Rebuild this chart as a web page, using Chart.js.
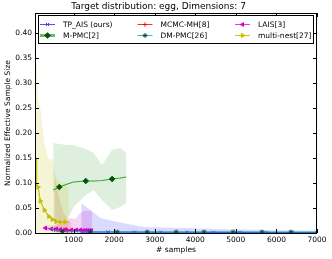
<!DOCTYPE html>
<html><head><meta charset="utf-8">
<script src="https://cdn.jsdelivr.net/npm/chart.js@4"></script>
<style>html,body{margin:0;padding:0;background:#fff;} canvas{display:block;}</style>
</head><body>
<canvas id="c" width="332" height="259"></canvas>
<script>
// ---- text ----
const titleText = 'Target distribution: egg, Dimensions: 7';
const xAxisLabel = '# samples';
const yAxisLabel = 'Normalized Effective Sample Size';

// ---- ticks ----
const xTicks = [1000, 2000, 3000, 4000, 5000, 6000, 7000];
const xTickLabels = ['1000', '2000', '3000', '4000', '5000', '6000', '7000'];
const yTicks = [0, 0.05, 0.10, 0.15, 0.20, 0.25, 0.30, 0.35, 0.40];
const yTickLabels = ['0.00', '0.05', '0.10', '0.15', '0.20', '0.25', '0.30', '0.35', '0.40'];

// ---- TP_AIS (ours) ----
const tpX = [1200, 1850, 2500, 3150, 3800, 4450, 5100, 5750, 6400, 7000];
const tpY = [0.002, 0.002, 0.0018, 0.0015, 0.0015, 0.0012, 0.0012, 0.001, 0.001, 0.001];
const tpBandX = [1190, 1460, 1660, 2080, 2470, 2740, 4120, 5770, 7000];
const tpBandHi = [0.060, 0.043, 0.030, 0.022, 0.016, 0.012, 0.009, 0.006, 0.0045];
const tpBandLo = [0, 0, 0, 0, 0, 0, 0, 0, 0];

// ---- MCMC-MH ----
const mhX = [530, 600, 680, 760, 850, 950];
const mhY = [0.007, 0.007, 0.006, 0.006, 0.005, 0.005];
const mhBandHi = [0.12, 0.085, 0.06, 0.04, 0.028, 0.02];
const mhBandLo = [0, 0, 0, 0, 0, 0];

// ---- LAIS ----
const laisX = [306, 454, 577, 675, 798, 946, 1069, 1167, 1241, 1290, 1339, 1388, 1437];
const laisY = [0.010, 0.008, 0.008, 0.007, 0.007, 0.006, 0.006, 0.006, 0.005, 0.005, 0.005, 0.005, 0.005];
const laisBandX = [306, 552, 798, 921, 1044, 1167, 1266, 1364, 1462];
const laisBandHi = [0.014, 0.016, 0.020, 0.030, 0.028, 0.040, 0.045, 0.044, 0.045];
const laisBandLo = [0.004, 0.003, 0.002, 0.002, 0.002, 0.002, 0.002, 0.002, 0.002];

// ---- M-PMC ----
const mpmcX = [500, 650, 850, 1000, 1300, 1500, 1700, 1950, 2150, 2300];
const mpmcY = [0.086, 0.092, 0.098, 0.102, 0.104, 0.104, 0.105, 0.108, 0.110, 0.112];
const mpmcMarks = [0, 1, 0, 0, 1, 0, 0, 1, 0, 0];
const mpmcBandHi = [0.180, 0.178, 0.176, 0.176, 0.168, 0.160, 0.136, 0.166, 0.170, 0.160];
const mpmcBandLo = [0.026, 0.026, 0.026, 0.052, 0.076, 0.086, 0.066, 0.046, 0.052, 0.060];

// ---- DM-PMC ----
const dmX = [430, 520, 600, 724, 1413, 2077, 2815, 3528, 4217, 4931, 5644, 6358, 7000];
const dmY = [0.009, 0.006, 0.004, 0.003, 0.002, 0.002, 0.002, 0.002, 0.002, 0.002, 0.002, 0.002, 0.002];
const dmMarks = [0, 0, 0, 1, 1, 1, 1, 1, 1, 1, 1, 1, 0];
const dmBandX = [430, 550, 700, 1000, 2000, 7000];
const dmBandHi = [0.012, 0.009, 0.005, 0.004, 0.003, 0.002];
const dmBandLo = [0.004, 0.002, 0, 0, 0, 0];

// ---- multi-nest ----
const mnX = [77, 90, 126, 183, 281, 392, 478, 569, 675, 791, 879];
const mnY = [0.150, 0.094, 0.092, 0.064, 0.046, 0.033, 0.027, 0.023, 0.022, 0.022, 0.022];
const mnMarks = [0, 0, 1, 1, 1, 1, 1, 1, 1, 1, 0];
const mnBandHi = [0.36, 0.35, 0.27, 0.25, 0.18, 0.146, 0.15, 0.11, 0.10, 0.10, 0.09];
const mnBandLo = [0, 0, 0, 0, 0, 0, 0, 0, 0, 0, 0];

const pts = (xs, ys) => xs.map((x, i) => ({x: x, y: ys[i]}));
const FONT = 'DejaVu Sans';

function band(xs, hi, lo, color) {
  return [
    {data: pts(xs, hi), fill: '+1', backgroundColor: color, borderWidth: 0, pointRadius: 0, order: 10},
    {data: pts(xs, lo), fill: false, borderWidth: 0, pointRadius: 0, order: 10}
  ];
}
function line(label, xs, ys, color, mColor, style, rot, r, marks, legendPos, legendLine) {
  return {
    label: label, data: pts(xs, ys), borderColor: color, borderWidth: 1.2, fill: false,
    pointStyle: style, pointRotation: rot, backgroundColor: mColor, pointBackgroundColor: mColor,
    pointBorderColor: mColor, pointBorderWidth: 1,
    pointRadius: marks ? marks.map(m => m ? r : 0) : r,
    order: 1, legendPos: legendPos, legendLine: legendLine, markR: r
  };
}

const datasets = [].concat(
  band(mnX, mnBandHi, mnBandLo, 'rgba(191,191,0,0.16)'),
  band(mpmcX, mpmcBandHi, mpmcBandLo, 'rgba(0,128,0,0.13)'),
  band(mhX, mhBandHi, mhBandLo, 'rgba(255,0,0,0.13)'),
  band(laisBandX, laisBandHi, laisBandLo, 'rgba(191,0,191,0.16)'),
  band(tpBandX, tpBandHi, tpBandLo, 'rgba(0,0,255,0.14)'),
  band(dmBandX, dmBandHi, dmBandLo, 'rgba(0,191,191,0.15)'),
  [
    Object.assign(line('TP_AIS (ours)', tpX, tpY, 'rgba(40,40,255,0.85)', '#3030ff', 'crossRot', 0, 2.2, null, [0, 0], {c: '#5050ff', w: 1}), {order: 6}),
    Object.assign(line('MCMC-MH[8]', mhX, mhY, 'rgba(255,0,0,0.85)', '#ff0000', 'cross', 0, 2.2, null, [1, 0], {c: '#ff3030', w: 1}), {order: 5}),
    Object.assign(line('LAIS[3]', laisX, laisY, 'rgba(220,0,220,0.9)', '#d000d0', 'triangle', -90, 2.2, null, [2, 0], {c: '#e040e0', w: 1}), {order: 4}),
    Object.assign(line('M-PMC[2]', mpmcX, mpmcY, 'rgba(30,150,30,0.85)', '#005500', 'rectRot', 0, 2.8, mpmcMarks, [0, 1], {c: '#70b870', w: 3}), {order: 3}),
    Object.assign(line('DM-PMC[26]', dmX, dmY, 'rgba(0,170,170,0.9)', '#004848', 'star', 0, 2.4, dmMarks, [1, 1], {c: '#40b8b8', w: 1}), {order: 2}),
    Object.assign(line('multi-nest[27]', mnX, mnY, 'rgba(191,191,0,0.95)', '#c0c000', 'triangle', 90, 2.4, mnMarks, [2, 1], {c: '#c8c800', w: 1}), {order: 1})
  ]
);

const framePlugin = {
  id: 'frame',
  afterDraw(chart) {
    const ctx = chart.ctx, a = chart.chartArea;
    const xs = chart.scales.x, ys = chart.scales.y;
    ctx.save();
    ctx.strokeStyle = '#000'; ctx.lineWidth = 1;
    ctx.strokeRect(a.left + 0.5, a.top + 0.5, a.right - a.left - 1, a.bottom - a.top);
    ctx.beginPath();
    xTicks.forEach(v => {
      const p = Math.round(xs.getPixelForValue(v)) + 0.5;
      ctx.moveTo(p, a.bottom); ctx.lineTo(p, a.bottom - 4);
      ctx.moveTo(p, a.top); ctx.lineTo(p, a.top + 4);
    });
    yTicks.forEach(v => {
      const p = Math.round(ys.getPixelForValue(v)) + 0.5;
      ctx.moveTo(a.left, p); ctx.lineTo(a.left + 4, p);
      ctx.moveTo(a.right, p); ctx.lineTo(a.right - 4, p);
    });
    ctx.stroke();

    // legend
    const lx = 38.5, ly = 15.5, lw = 275, lh = 28;
    ctx.fillStyle = '#fff'; ctx.fillRect(lx, ly, lw, lh);
    ctx.strokeRect(lx, ly, lw, lh);
    const colX = [40, 137.5, 235];
    const rowY = [24.5, 35.5];
    ctx.font = '7.5px "' + FONT + '"';
    ctx.textBaseline = 'middle';
    chart.data.datasets.forEach(ds => {
      if (!ds.legendPos) return;
      const x0 = colX[ds.legendPos[0]], y0 = rowY[ds.legendPos[1]];
      ctx.strokeStyle = ds.legendLine.c; ctx.lineWidth = ds.legendLine.w;
      ctx.beginPath(); ctx.moveTo(x0, y0); ctx.lineTo(x0 + 15, y0); ctx.stroke();
      ctx.fillStyle = ds.pointBackgroundColor; ctx.strokeStyle = ds.pointBorderColor; ctx.lineWidth = 1;
      Chart.helpers.drawPoint(ctx, {pointStyle: ds.pointStyle, rotation: ds.pointRotation, radius: ds.markR, borderWidth: 1}, x0 + 7.5, y0);
      ctx.fillStyle = '#000';
      ctx.fillText(ds.label, x0 + 23, y0 + 0.5);
    });
    ctx.restore();
  }
};

new Chart(document.getElementById('c'), {
  type: 'line',
  data: {datasets: datasets},
  plugins: [framePlugin],
  options: {
    responsive: false, animation: false, devicePixelRatio: 1,
    layout: {padding: {left: 0, right: 15, top: 0, bottom: 0}},
    elements: {line: {tension: 0}},
    plugins: {
      legend: {display: false}, tooltip: {enabled: false},
      title: {display: true, text: titleText, color: '#000', font: {family: FONT, size: 9, weight: 'normal'}, padding: {top: 1, bottom: 1.2}}
    },
    scales: {
      x: {
        type: 'linear', min: 50, max: 7000,
        afterBuildTicks: s => { s.ticks = xTicks.map(v => ({value: v})); },
        afterFit: s => { s.height = 26; },
        grid: {display: false, drawTicks: false},
        border: {display: false},
        ticks: {color: '#000', font: {family: FONT, size: 7.5}, padding: 3, maxRotation: 0,
          callback: (v) => xTickLabels[xTicks.indexOf(v)]},
        title: {display: true, text: xAxisLabel, color: '#000', font: {family: FONT, size: 7.5}, padding: {top: 0, bottom: 4.5}}
      },
      y: {
        type: 'linear', min: 0, max: 0.44,
        afterBuildTicks: s => { s.ticks = yTicks.map(v => ({value: v})); },
        afterFit: s => { s.width = 35; },
        grid: {display: false, drawTicks: false},
        border: {display: false},
        ticks: {color: '#000', font: {family: FONT, size: 7.5}, padding: 3,
          callback: (v) => yTickLabels[yTicks.indexOf(v)]},
        title: {display: true, text: yAxisLabel, color: '#000', font: {family: FONT, size: 7.5}, padding: {top: 4, bottom: 0}}
      }
    }
  }
});
</script>
</body></html>
